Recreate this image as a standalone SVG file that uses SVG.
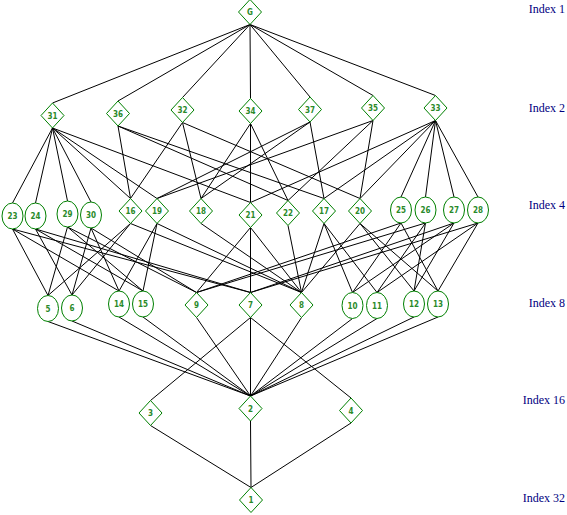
<svg xmlns="http://www.w3.org/2000/svg" xmlns:xlink="http://www.w3.org/1999/xlink" width="567" height="515" viewBox="0 0 567 515">
<style>
.e line{stroke:#000;stroke-width:1;fill:none}
.d,.c{fill:#fff;stroke:#008000;stroke-width:1}
.t{font-family:"DejaVu Sans Condensed","DejaVu Sans",sans-serif;font-size:8px;font-weight:bold;fill:#2a8a2a;text-anchor:middle}
.ix{font-family:"Liberation Serif",serif;font-size:12px;fill:#000080;text-anchor:end}
</style>
<defs>
<path id="dm" class="d" d="M0,-12.5 L11.5,0 L0,12.5 L-11.5,0 Z"/>
<ellipse id="cr" class="c" rx="10.5" ry="13"/>
</defs>
<g id="connectors" class="e">
<line x1="250" y1="24.5" x2="52.5" y2="103"/>
<line x1="250" y1="24.5" x2="118" y2="101"/>
<line x1="250" y1="24.5" x2="182.5" y2="97.5"/>
<line x1="250" y1="24.5" x2="250.5" y2="98.5"/>
<line x1="250" y1="24.5" x2="310" y2="97"/>
<line x1="250" y1="24.5" x2="373" y2="95.5"/>
<line x1="250" y1="24.5" x2="435.5" y2="95.5"/>
<line x1="52.5" y1="128" x2="12.5" y2="203"/>
<line x1="52.5" y1="128" x2="35.5" y2="203"/>
<line x1="52.5" y1="128" x2="67.5" y2="201"/>
<line x1="52.5" y1="128" x2="91" y2="202"/>
<line x1="52.5" y1="128" x2="130.5" y2="198.5"/>
<line x1="52.5" y1="128" x2="250.5" y2="202.5"/>
<line x1="52.5" y1="128" x2="157" y2="198.5"/>
<line x1="435.5" y1="120.5" x2="401" y2="197"/>
<line x1="435.5" y1="120.5" x2="425.5" y2="197"/>
<line x1="435.5" y1="120.5" x2="454" y2="197"/>
<line x1="435.5" y1="120.5" x2="478" y2="197"/>
<line x1="435.5" y1="120.5" x2="250.5" y2="202.5"/>
<line x1="435.5" y1="120.5" x2="324" y2="198.5"/>
<line x1="435.5" y1="120.5" x2="360" y2="198.5"/>
<line x1="118" y1="126" x2="130.5" y2="198.5"/>
<line x1="118" y1="126" x2="288" y2="200.5"/>
<line x1="118" y1="126" x2="324" y2="198.5"/>
<line x1="182.5" y1="122.5" x2="130.5" y2="198.5"/>
<line x1="182.5" y1="122.5" x2="201" y2="198.5"/>
<line x1="182.5" y1="122.5" x2="360" y2="198.5"/>
<line x1="250.5" y1="123.5" x2="250.5" y2="202.5"/>
<line x1="250.5" y1="123.5" x2="288" y2="200.5"/>
<line x1="250.5" y1="123.5" x2="201" y2="198.5"/>
<line x1="310" y1="122" x2="157" y2="198.5"/>
<line x1="310" y1="122" x2="324" y2="198.5"/>
<line x1="310" y1="122" x2="201" y2="198.5"/>
<line x1="373" y1="120.5" x2="157" y2="198.5"/>
<line x1="373" y1="120.5" x2="360" y2="198.5"/>
<line x1="373" y1="120.5" x2="288" y2="200.5"/>
<line x1="12.5" y1="229" x2="48" y2="295.5"/>
<line x1="12.5" y1="229" x2="119" y2="291"/>
<line x1="12.5" y1="229" x2="250.5" y2="292.5"/>
<line x1="35.5" y1="229" x2="72" y2="295"/>
<line x1="35.5" y1="229" x2="143" y2="291"/>
<line x1="35.5" y1="229" x2="250.5" y2="292.5"/>
<line x1="67.5" y1="227" x2="48" y2="295.5"/>
<line x1="67.5" y1="227" x2="143" y2="291"/>
<line x1="67.5" y1="227" x2="196.5" y2="292.5"/>
<line x1="91" y1="228" x2="72" y2="295"/>
<line x1="91" y1="228" x2="119" y2="291"/>
<line x1="91" y1="228" x2="196.5" y2="292.5"/>
<line x1="401" y1="223" x2="352.5" y2="292.5"/>
<line x1="401" y1="223" x2="438" y2="291"/>
<line x1="401" y1="223" x2="196.5" y2="292.5"/>
<line x1="425.5" y1="223" x2="377" y2="292.5"/>
<line x1="425.5" y1="223" x2="414" y2="291"/>
<line x1="425.5" y1="223" x2="196.5" y2="292.5"/>
<line x1="454" y1="223" x2="352.5" y2="292.5"/>
<line x1="454" y1="223" x2="414" y2="291"/>
<line x1="454" y1="223" x2="250.5" y2="292.5"/>
<line x1="478" y1="223" x2="377" y2="292.5"/>
<line x1="478" y1="223" x2="438" y2="291"/>
<line x1="478" y1="223" x2="250.5" y2="292.5"/>
<line x1="130.5" y1="223.5" x2="48" y2="295.5"/>
<line x1="130.5" y1="223.5" x2="72" y2="295"/>
<line x1="130.5" y1="223.5" x2="301.5" y2="292.5"/>
<line x1="157" y1="223.5" x2="119" y2="291"/>
<line x1="157" y1="223.5" x2="143" y2="291"/>
<line x1="157" y1="223.5" x2="301.5" y2="292.5"/>
<line x1="250.5" y1="227.5" x2="250.5" y2="292.5"/>
<line x1="250.5" y1="227.5" x2="301.5" y2="292.5"/>
<line x1="250.5" y1="227.5" x2="196.5" y2="292.5"/>
<line x1="201" y1="223.5" x2="301.5" y2="292.5"/>
<line x1="288" y1="225.5" x2="301.5" y2="292.5"/>
<line x1="324" y1="223.5" x2="352.5" y2="292.5"/>
<line x1="324" y1="223.5" x2="377" y2="292.5"/>
<line x1="324" y1="223.5" x2="301.5" y2="292.5"/>
<line x1="360" y1="223.5" x2="414" y2="291"/>
<line x1="360" y1="223.5" x2="438" y2="291"/>
<line x1="360" y1="223.5" x2="301.5" y2="292.5"/>
<line x1="48" y1="321.5" x2="250.5" y2="396"/>
<line x1="72" y1="321" x2="250.5" y2="396"/>
<line x1="119" y1="317" x2="250.5" y2="396"/>
<line x1="143" y1="317" x2="250.5" y2="396"/>
<line x1="196.5" y1="317.5" x2="250.5" y2="396"/>
<line x1="250.5" y1="317.5" x2="250.5" y2="396"/>
<line x1="301.5" y1="317.5" x2="250.5" y2="396"/>
<line x1="352.5" y1="318.5" x2="250.5" y2="396"/>
<line x1="377" y1="318.5" x2="250.5" y2="396"/>
<line x1="414" y1="317" x2="250.5" y2="396"/>
<line x1="438" y1="317" x2="250.5" y2="396"/>
<line x1="250.5" y1="317.5" x2="150.5" y2="400.5"/>
<line x1="250.5" y1="317.5" x2="351" y2="398"/>
<line x1="150.5" y1="425.5" x2="251" y2="487.5"/>
<line x1="250.5" y1="421" x2="251" y2="487.5"/>
<line x1="351" y1="423" x2="251" y2="487.5"/>
</g>
<g id="node-G"><use xlink:href="#dm" x="250" y="12"/><text class="t" x="250" y="15">G</text></g>
<g id="node-31"><use xlink:href="#dm" x="52.5" y="115.5"/><text class="t" x="52.5" y="118.5">31</text></g>
<g id="node-36"><use xlink:href="#dm" x="118" y="113.5"/><text class="t" x="118" y="116.5">36</text></g>
<g id="node-32"><use xlink:href="#dm" x="182.5" y="110"/><text class="t" x="182.5" y="113">32</text></g>
<g id="node-34"><use xlink:href="#dm" x="250.5" y="111"/><text class="t" x="250.5" y="114">34</text></g>
<g id="node-37"><use xlink:href="#dm" x="310" y="109.5"/><text class="t" x="310" y="112.5">37</text></g>
<g id="node-35"><use xlink:href="#dm" x="373" y="108"/><text class="t" x="373" y="111">35</text></g>
<g id="node-33"><use xlink:href="#dm" x="435.5" y="108"/><text class="t" x="435.5" y="111">33</text></g>
<g id="node-23"><use xlink:href="#cr" x="12.5" y="216"/><text class="t" x="12.5" y="219">23</text></g>
<g id="node-24"><use xlink:href="#cr" x="35.5" y="216"/><text class="t" x="35.5" y="219">24</text></g>
<g id="node-29"><use xlink:href="#cr" x="67.5" y="214"/><text class="t" x="67.5" y="217">29</text></g>
<g id="node-30"><use xlink:href="#cr" x="91" y="215"/><text class="t" x="91" y="218">30</text></g>
<g id="node-16"><use xlink:href="#dm" x="130.5" y="211"/><text class="t" x="130.5" y="214">16</text></g>
<g id="node-19"><use xlink:href="#dm" x="157" y="211"/><text class="t" x="157" y="214">19</text></g>
<g id="node-18"><use xlink:href="#dm" x="201" y="211"/><text class="t" x="201" y="214">18</text></g>
<g id="node-21"><use xlink:href="#dm" x="250.5" y="215"/><text class="t" x="250.5" y="218">21</text></g>
<g id="node-22"><use xlink:href="#dm" x="288" y="213"/><text class="t" x="288" y="216">22</text></g>
<g id="node-17"><use xlink:href="#dm" x="324" y="211"/><text class="t" x="324" y="214">17</text></g>
<g id="node-20"><use xlink:href="#dm" x="360" y="211"/><text class="t" x="360" y="214">20</text></g>
<g id="node-25"><use xlink:href="#cr" x="401" y="210"/><text class="t" x="401" y="213">25</text></g>
<g id="node-26"><use xlink:href="#cr" x="425.5" y="210"/><text class="t" x="425.5" y="213">26</text></g>
<g id="node-27"><use xlink:href="#cr" x="454" y="210"/><text class="t" x="454" y="213">27</text></g>
<g id="node-28"><use xlink:href="#cr" x="478" y="210"/><text class="t" x="478" y="213">28</text></g>
<g id="node-5"><use xlink:href="#cr" x="48" y="308.5"/><text class="t" x="48" y="311.5">5</text></g>
<g id="node-6"><use xlink:href="#cr" x="72" y="308"/><text class="t" x="72" y="311">6</text></g>
<g id="node-14"><use xlink:href="#cr" x="119" y="304"/><text class="t" x="119" y="307">14</text></g>
<g id="node-15"><use xlink:href="#cr" x="143" y="304"/><text class="t" x="143" y="307">15</text></g>
<g id="node-9"><use xlink:href="#dm" x="196.5" y="305"/><text class="t" x="196.5" y="308">9</text></g>
<g id="node-7"><use xlink:href="#dm" x="250.5" y="305"/><text class="t" x="250.5" y="308">7</text></g>
<g id="node-8"><use xlink:href="#dm" x="301.5" y="305"/><text class="t" x="301.5" y="308">8</text></g>
<g id="node-10"><use xlink:href="#cr" x="352.5" y="305.5"/><text class="t" x="352.5" y="308.5">10</text></g>
<g id="node-11"><use xlink:href="#cr" x="377" y="305.5"/><text class="t" x="377" y="308.5">11</text></g>
<g id="node-12"><use xlink:href="#cr" x="414" y="304"/><text class="t" x="414" y="307">12</text></g>
<g id="node-13"><use xlink:href="#cr" x="438" y="304"/><text class="t" x="438" y="307">13</text></g>
<g id="node-3"><use xlink:href="#dm" x="150.5" y="413"/><text class="t" x="150.5" y="416">3</text></g>
<g id="node-2"><use xlink:href="#dm" x="250.5" y="408.5"/><text class="t" x="250.5" y="411.5">2</text></g>
<g id="node-4"><use xlink:href="#dm" x="351" y="410.5"/><text class="t" x="351" y="413.5">4</text></g>
<g id="node-1"><use xlink:href="#dm" x="251" y="500"/><text class="t" x="251" y="503">1</text></g>
<g id="index-labels">
<text class="ix" x="565" y="13">Index 1</text>
<text class="ix" x="565" y="112">Index 2</text>
<text class="ix" x="565" y="209">Index 4</text>
<text class="ix" x="565" y="307">Index 8</text>
<text class="ix" x="565" y="404">Index 16</text>
<text class="ix" x="565" y="502">Index 32</text>
</g>
</svg>
